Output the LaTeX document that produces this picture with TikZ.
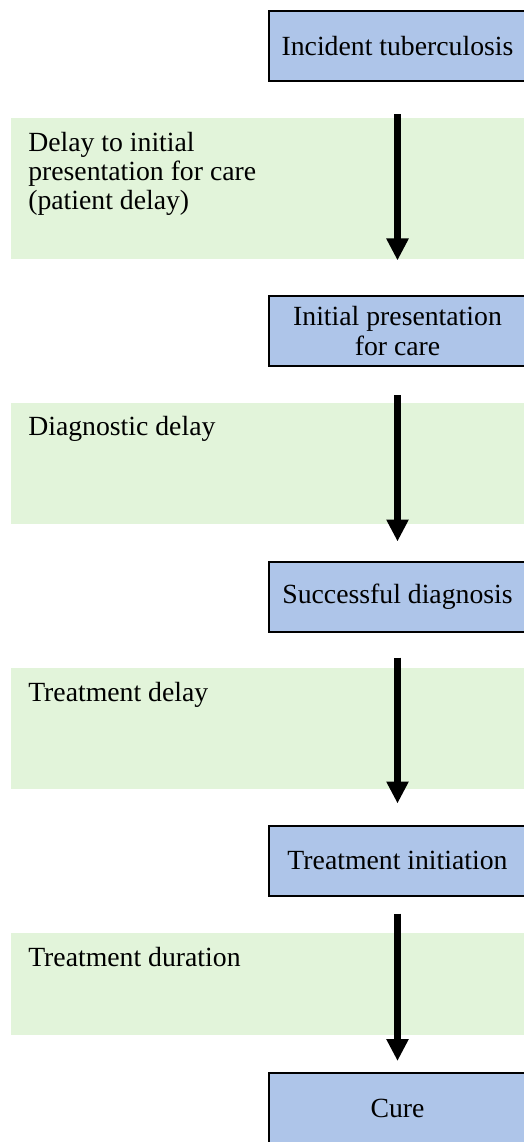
\documentclass[tikz,border=0pt]{standalone}
\usepackage{fontspec}
\setmainfont{Liberation Serif}
\usepackage{tikz}
\usetikzlibrary{arrows.meta}

\definecolor{boxblue}{RGB}{174,197,233}
\definecolor{bandgreen}{RGB}{226,244,218}

\tikzset{
  stagebox/.style={draw=black, line width=1.5pt, fill=boxblue, minimum width=192.75pt,
    minimum height=52.5pt, inner sep=0.75pt, align=center, font=\fontsize{20.8}{22}\selectfont},
  delayband/.style={fill=bandgreen},
  delaytext/.style={anchor=north west, inner sep=0pt, align=left, font=\fontsize{20.8}{21.8}\selectfont},
  flowarrow/.style={line width=5.8pt, -{Triangle[width=15.75pt,length=16.5pt]}}
}

\begin{document}
\begin{tikzpicture}[x=0.75pt,y=0.75pt,yscale=-1,xscale=1]

            \clip (0,0) rectangle (524,1142);
            \useasboundingbox (0,0) rectangle (524,1142);

            % Delay bands
            \fill[delayband] ( 11,118) rectangle (530,259);
            \fill[delayband] ( 11,403) rectangle (530,524);
            \fill[delayband] ( 11,668) rectangle (530,789);
            \fill[delayband] ( 11,933) rectangle (530,1035);

            \node[delaytext] (patdelay) at (28,132) {Delay to initial\\presentation for care\\(patient delay)};
            \node[delaytext] (dxdelay)  at (28,416) {Diagnostic delay};
            \node[delaytext] (txdelay)  at (28,682) {Treatment delay};
            \node[delaytext] (txdur)    at (28,947) {Treatment duration};

            % Stages
            \node[stagebox] (incident) at (397.5,  46.0) {Incident tuberculosis};
            \node[stagebox] (present)  at (397.5, 331.0) {Initial presentation\\for care};
            \node[stagebox] (diagnos)  at (397.5, 596.5) {Successful diagnosis};
            \node[stagebox] (treatini) at (397.5, 860.5) {Treatment initiation};
            \node[stagebox] (cure)     at (397.5,1108.0) {Cure};

            % Arrows
            \draw[flowarrow, shorten <=24pt,    shorten >=25.9pt]  (incident) -- (present);
            \draw[flowarrow, shorten <=21pt,    shorten >=14.25pt] (present) -- (diagnos);
            \draw[flowarrow, shorten <=18.75pt, shorten >=15.75pt] (diagnos) -- (treatini);
            \draw[flowarrow, shorten <=12.75pt, shorten >=8.25pt]  (treatini) -- (cure);

            \end{tikzpicture}
\end{document}
